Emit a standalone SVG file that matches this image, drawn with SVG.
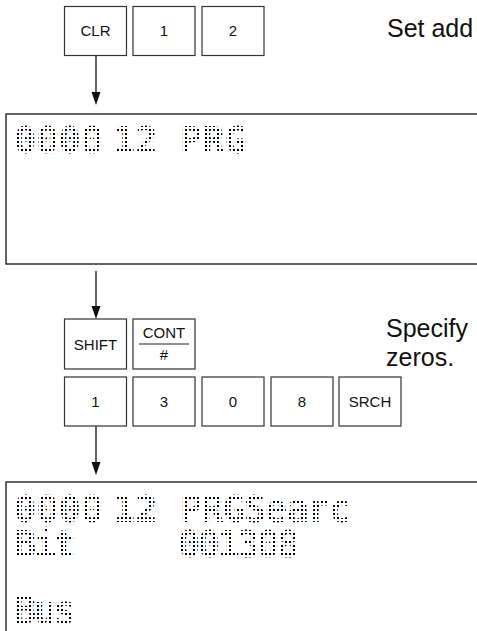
<svg xmlns="http://www.w3.org/2000/svg" width="477" height="631" viewBox="0 0 477 631">
<style>
  .key { fill: #fff; stroke: #333; stroke-width: 1.2; }
  .kt { font-family: "Liberation Sans", Arial, sans-serif; font-size: 15px; fill: #111; text-anchor: middle; }
  .note { font-family: "Liberation Sans", Arial, sans-serif; font-size: 25px; fill: #111; }
  .disp { fill: #fff; stroke: #222; stroke-width: 1.4; }
  .lcd { font-family: "DejaVu Sans Mono", monospace; font-size: 37px; font-weight: bold; fill: url(#dots); opacity: 0.99; }
  .conn { stroke: #111; stroke-width: 1.3; fill: none; }
</style>
<defs>
  <pattern id="dots" x="0" y="0" width="4" height="4" patternUnits="userSpaceOnUse">
    <rect x="1" y="1" width="2" height="2" fill="#000" shape-rendering="crispEdges"/>
  </pattern>
</defs>

<!-- connectors -->
<g id="connectors">
  <line class="conn" x1="96" y1="56" x2="96" y2="92"/>
  <path d="M91.5,92 L100.5,92 L96,105 Z" fill="#111"/>
  <line class="conn" x1="96" y1="271" x2="96" y2="306"/>
  <path d="M91.5,306 L100.5,306 L96,319 Z" fill="#111"/>
  <line class="conn" x1="96" y1="426" x2="96" y2="462"/>
  <path d="M91.5,462 L100.5,462 L96,475 Z" fill="#111"/>
</g>

<!-- top row keys -->
<g id="key-clr"><rect class="key" x="64.5" y="6.5" width="62" height="49"/><text class="kt" x="95.5" y="36">CLR</text></g>
<g id="key-1a"><rect class="key" x="133" y="6.5" width="62" height="49"/><text class="kt" x="164" y="36">1</text></g>
<g id="key-2a"><rect class="key" x="202" y="6.5" width="62" height="49"/><text class="kt" x="233" y="36">2</text></g>
<g id="note-1"><text class="note" x="387" y="37">Set add</text></g>

<!-- first display -->
<g id="display-1">
  <rect class="disp" x="6" y="114" width="500" height="150"/>
  <text class="lcd" y="153"><tspan x="14">0000</tspan><tspan x="113">12 </tspan><tspan x="180">PRG</tspan></text>
</g>

<!-- shift / cont keys -->
<g id="key-shift"><rect class="key" x="64.5" y="319" width="62" height="50"/><text class="kt" x="95.5" y="349.5">SHIFT</text></g>
<g id="key-cont"><rect class="key" x="133" y="319" width="62" height="50"/><text class="kt" x="164" y="338">CONT</text><line x1="139" y1="344" x2="189" y2="344" stroke="#222" stroke-width="1.2"/><text class="kt" x="164" y="360">#</text></g>
<g id="note-2"><text class="note" x="386" y="337">Specify</text><text class="note" x="386" y="366">zeros.</text></g>

<!-- second row keys -->
<g id="key-1b"><rect class="key" x="64.5" y="377" width="62" height="49"/><text class="kt" x="95.5" y="407">1</text></g>
<g id="key-3"><rect class="key" x="133" y="377" width="62" height="49"/><text class="kt" x="164" y="407">3</text></g>
<g id="key-0"><rect class="key" x="202" y="377" width="62" height="49"/><text class="kt" x="233" y="407">0</text></g>
<g id="key-8"><rect class="key" x="271" y="377" width="62" height="49"/><text class="kt" x="302" y="407">8</text></g>
<g id="key-srch"><rect class="key" x="339" y="377" width="62" height="49"/><text class="kt" x="370" y="407">SRCH</text></g>

<!-- second display -->
<g id="display-2">
  <rect class="disp" x="6" y="482" width="500" height="200"/>
  <text class="lcd" y="522"><tspan x="14">0000</tspan><tspan x="113">12 </tspan><tspan x="180" letter-spacing="-1">PRGSearc</tspan></text>
  <text class="lcd" y="557" letter-spacing="-2.5"><tspan x="14">Bit</tspan><tspan x="178">001308</tspan></text>
  <text class="lcd" y="623" letter-spacing="-2.5"><tspan x="14">Bus</tspan></text>
</g>
</svg>
